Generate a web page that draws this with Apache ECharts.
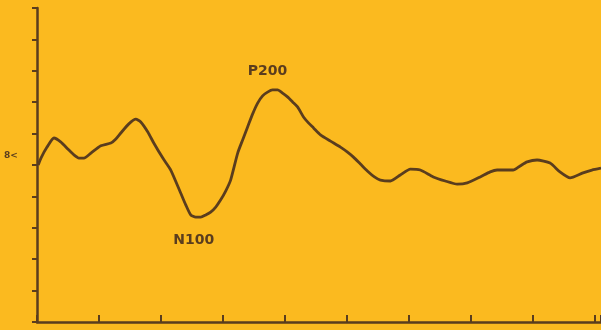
<!DOCTYPE html>
<html>
<head>
<meta charset="utf-8">
<script src="https://cdn.jsdelivr.net/npm/echarts@6/dist/echarts.min.js"></script>
<style>html,body{margin:0;padding:0;background:#FBBA1F;}#c{width:601px;height:330px;}</style>
</head>
<body>
<div id="c"></div>
<script>
// time (ms) and amplitude (arbitrary units)
var timeMs = [1,3.2,8.1,13.7,19.3,24.9,29.8,33.8,37.9,43.5,51.5,59.6,63.6,67.6,74.1,79.7,83.7,89.4,94.2,101.5,107.9,115.9,120,124,128,132.1,136.1,140.1,144.2,148.2,152.2,156.2,161.9,165.9,169.9,173.9,178,182,186,190,194.1,198.1,202.1,206.2,210.2,215,219,223.1,228.7,236.8,244.8,250.5,255.3,260.9,266.5,272.2,277,285.1,293.1,301.2,309.2,319.7,329.4,339,347.1,357.6,365.6,371.2,377.7,384.1,389.7,395.4,403.4,413.9,421.9,430,440.5,447.7,455];
var amplitude = [5.00,5.22,5.57,5.86,5.73,5.51,5.32,5.22,5.22,5.38,5.61,5.70,5.83,6.02,6.31,6.46,6.37,6.05,5.70,5.22,4.84,4.11,3.73,3.41,3.34,3.34,3.41,3.50,3.66,3.89,4.17,4.52,5.38,5.80,6.21,6.62,6.97,7.20,7.32,7.39,7.39,7.29,7.17,7.01,6.85,6.53,6.34,6.18,5.96,5.76,5.57,5.41,5.25,5.03,4.81,4.62,4.52,4.49,4.68,4.87,4.84,4.62,4.49,4.39,4.43,4.62,4.78,4.84,4.84,4.84,4.97,5.10,5.16,5.06,4.78,4.59,4.75,4.84,4.90];
var peakLabels = ['P200', 'N100'];
var baselineLabel = '8<';

var ink = '#5a3d1e';
var data = timeMs.map(function(t, i){ return [t, amplitude[i]]; });
var iMax = 0, iMin = 0;
amplitude.forEach(function(v, i){ if (v > amplitude[iMax]) iMax = i; if (v < amplitude[iMin]) iMin = i; });

var chart = echarts.init(document.getElementById('c'));
chart.setOption({
  backgroundColor: '#FBBA1F',
  animation: false,
  grid: {left: 37, right: 0, top: 8, bottom: 8},
  xAxis: {
    type: 'value', min: 0, max: 455, interval: 50,
    axisLine: {lineStyle: {color: ink, width: 2.5}},
    axisTick: {inside: true, length: 7, lineStyle: {color: ink, width: 2}},
    axisLabel: {show: false},
    splitLine: {show: false}
  },
  yAxis: {
    type: 'value', min: 0, max: 10, interval: 1,
    axisLine: {show: true, lineStyle: {color: ink, width: 2.5}},
    axisTick: {show: true, length: 5, lineStyle: {color: ink, width: 2}},
    axisLabel: {show: false},
    splitLine: {show: false}
  },
  series: [{
    type: 'line',
    data: data,
    smooth: 0.2,
    symbol: 'none',
    lineStyle: {color: ink, width: 2.8},
    markPoint: {
      symbol: 'circle',
      symbolSize: 1,
      itemStyle: {color: 'rgba(0,0,0,0)'},
      label: {show: true, color: ink, fontFamily: 'DejaVu Sans', fontWeight: 'bold', fontSize: 14},
      data: [
        {coord: data[iMax], value: peakLabels[0], label: {formatter: peakLabels[0], offset: [-5, -19]}},
        {coord: data[iMin], value: peakLabels[1], label: {formatter: peakLabels[1], offset: [-2, 23]}}
      ]
    }
  }],
  graphic: [{
    type: 'text', left: 4, top: 151,
    style: {text: baselineLabel, fill: ink, font: 'bold 9px "DejaVu Sans"'}
  }]
});
</script>
</body>
</html>
